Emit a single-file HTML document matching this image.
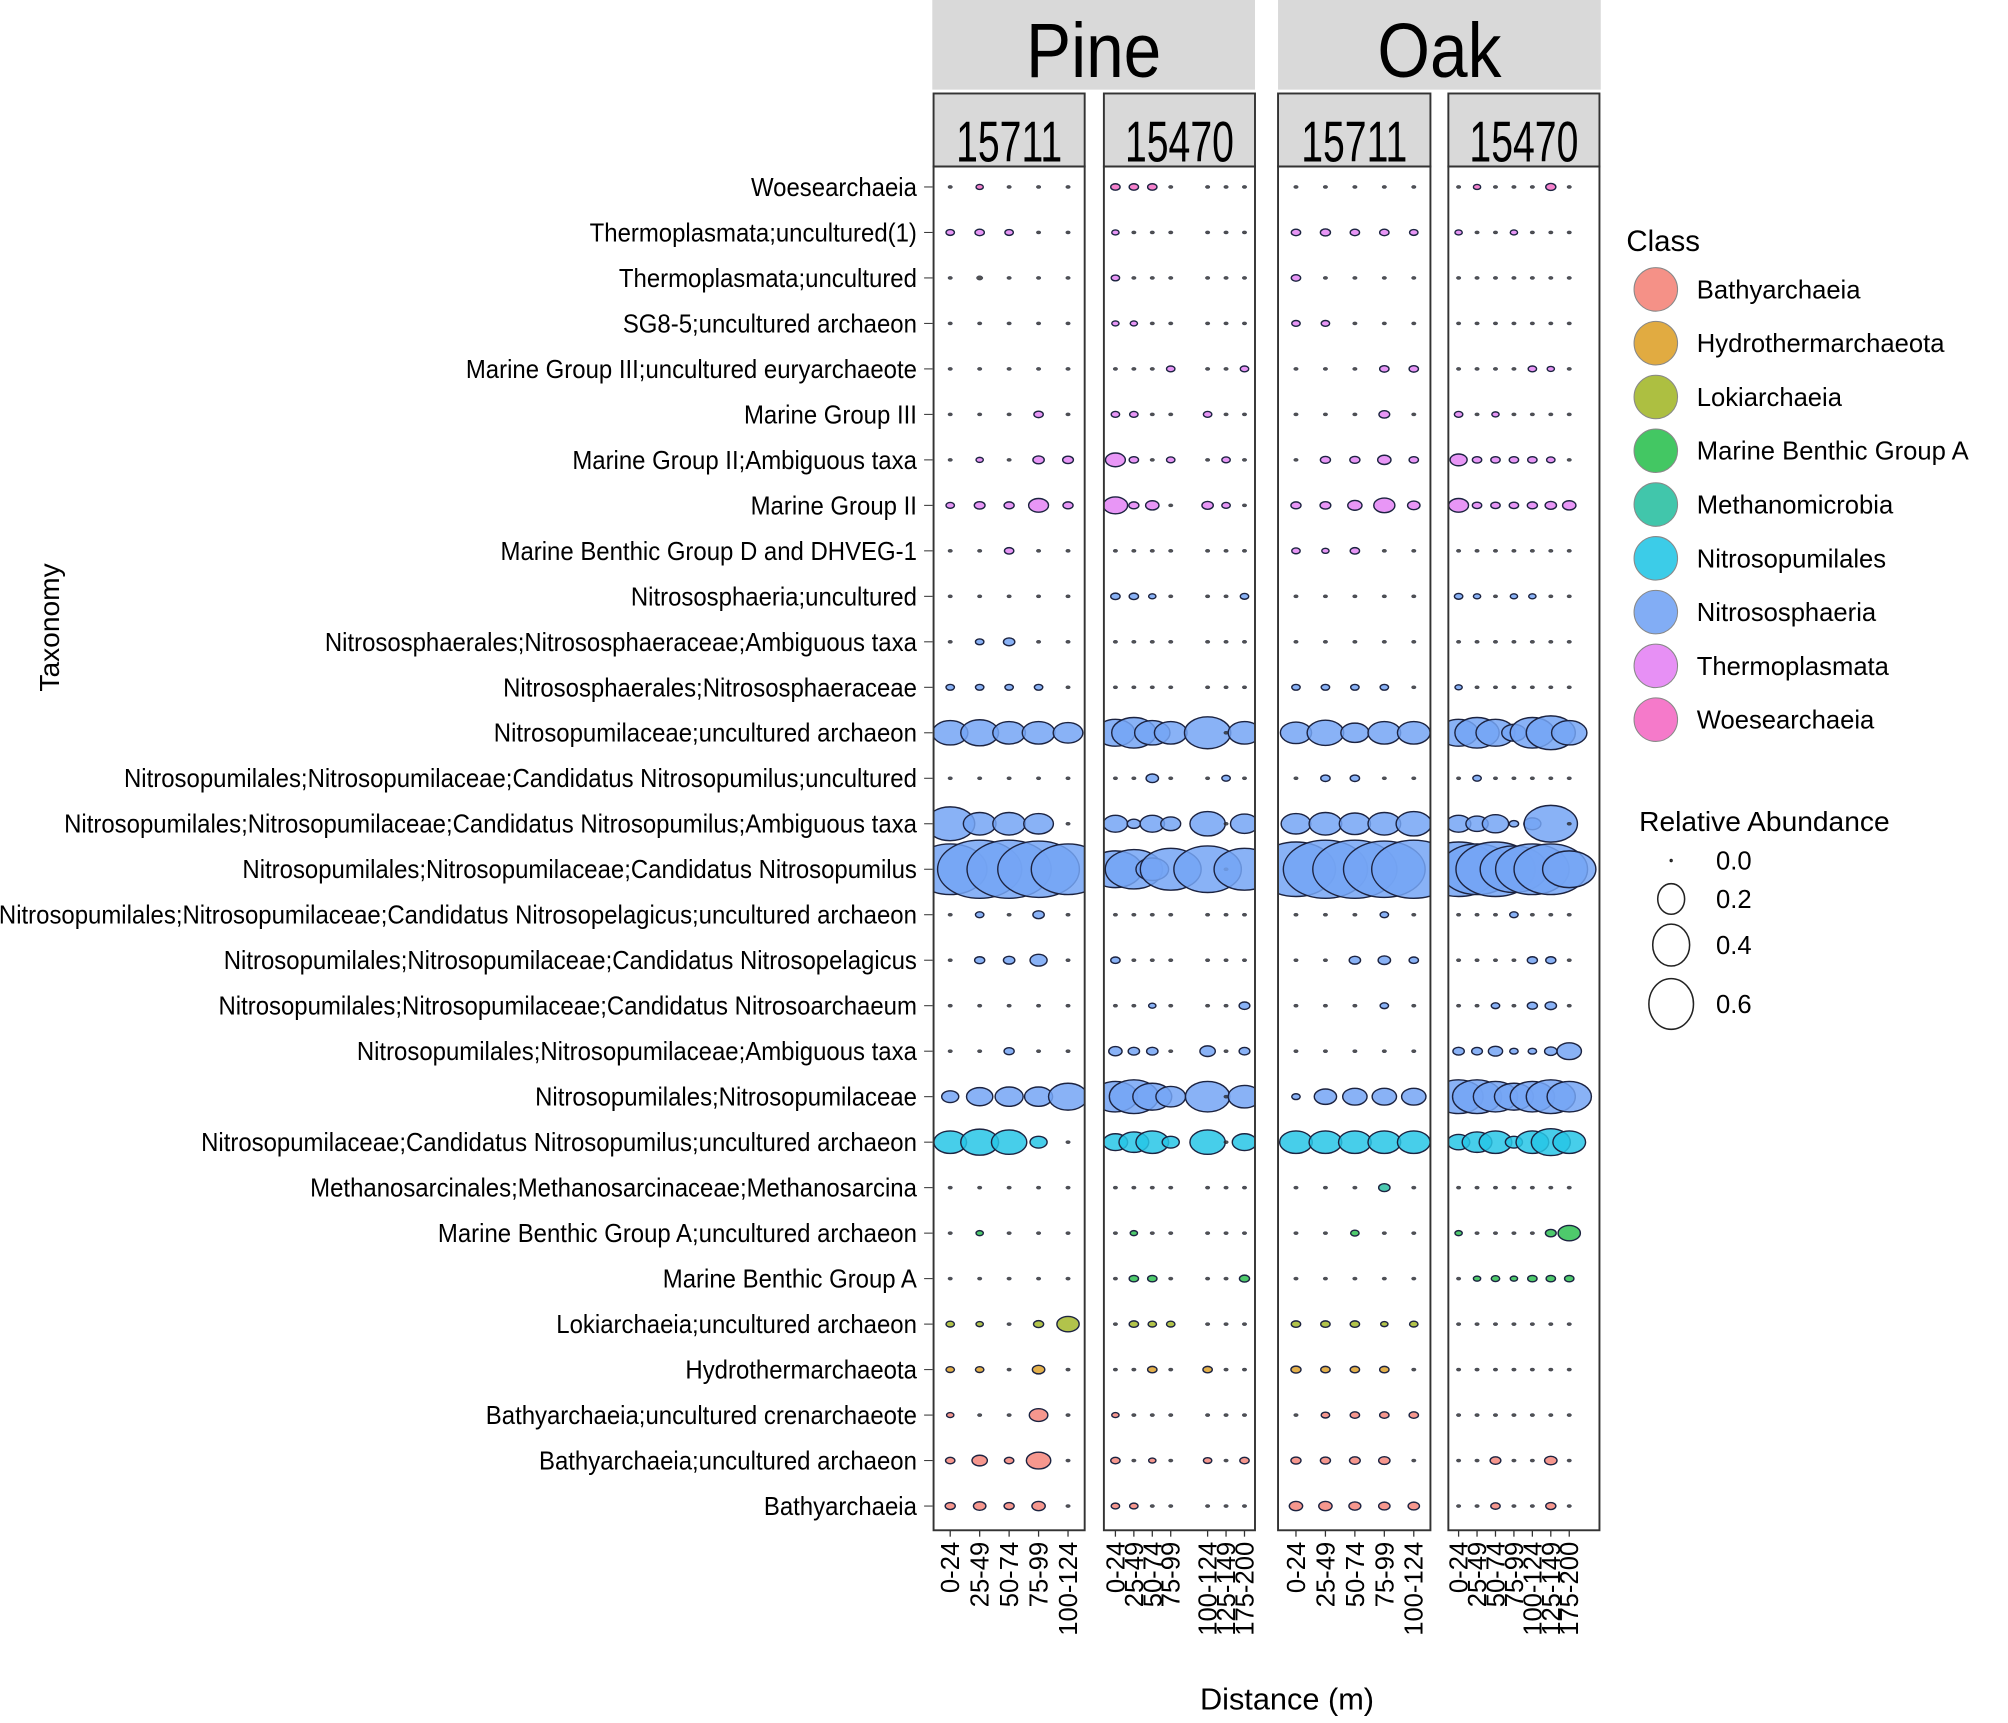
<!DOCTYPE html>
<html><head><meta charset="utf-8"><style>
html,body{margin:0;padding:0;background:#fff}
svg{display:block}
text{font-family:"Liberation Sans",sans-serif}
</style></head><body>
<svg id="chart" width="2008" height="1723" viewBox="0 0 1568 1345.5" xmlns="http://www.w3.org/2000/svg">
<g id="strips"></g><g id="panels"></g><g id="ylabels" transform="translate(716,0) scale(0.935,1) translate(-716,0)"></g><g id="legend"></g>
<text x="1005" y="1335" font-size="24" text-anchor="middle">Distance (m)</text>
<text transform="translate(46,490) rotate(-90)" font-size="22" text-anchor="middle">Taxonomy</text>
</svg>
<script>
const taxa = ["Woesearchaeia","Thermoplasmata;uncultured(1)","Thermoplasmata;uncultured","SG8-5;uncultured archaeon","Marine Group III;uncultured euryarchaeote","Marine Group III","Marine Group II;Ambiguous taxa","Marine Group II","Marine Benthic Group D and DHVEG-1","Nitrososphaeria;uncultured","Nitrososphaerales;Nitrososphaeraceae;Ambiguous taxa","Nitrososphaerales;Nitrososphaeraceae","Nitrosopumilaceae;uncultured archaeon","Nitrosopumilales;Nitrosopumilaceae;Candidatus Nitrosopumilus;uncultured","Nitrosopumilales;Nitrosopumilaceae;Candidatus Nitrosopumilus;Ambiguous taxa","Nitrosopumilales;Nitrosopumilaceae;Candidatus Nitrosopumilus","Nitrosopumilales;Nitrosopumilaceae;Candidatus Nitrosopelagicus;uncultured archaeon","Nitrosopumilales;Nitrosopumilaceae;Candidatus Nitrosopelagicus","Nitrosopumilales;Nitrosopumilaceae;Candidatus Nitrosoarchaeum","Nitrosopumilales;Nitrosopumilaceae;Ambiguous taxa","Nitrosopumilales;Nitrosopumilaceae","Nitrosopumilaceae;Candidatus Nitrosopumilus;uncultured archaeon","Methanosarcinales;Methanosarcinaceae;Methanosarcina","Marine Benthic Group A;uncultured archaeon","Marine Benthic Group A","Lokiarchaeia;uncultured archaeon","Hydrothermarchaeota","Bathyarchaeia;uncultured crenarchaeote","Bathyarchaeia;uncultured archaeon","Bathyarchaeia"];
const taxaClass = [8,7,7,7,7,7,7,7,7,6,6,6,6,6,6,6,6,6,6,6,6,5,4,3,3,2,1,0,0,0];
const classNames = ["Bathyarchaeia","Hydrothermarchaeota","Lokiarchaeia","Marine Benthic Group A","Methanomicrobia","Nitrosopumilales","Nitrososphaeria","Thermoplasmata","Woesearchaeia"];
const classColors = ["#f4857a","#dea22c","#a4b82c","#2fc152","#2cc0a2","#27c6e6","#74a4f4","#e484f4","#f46cc4"];
const cats5 = ["0-24","25-49","50-74","75-99","100-124"];
const cats7 = ["0-24","25-49","50-74","75-99","100-124","125-149","175-200"];
const sizeLegend = [0.0,0.2,0.4,0.6];
const pine15711 = [
[0,.001,0,0,0],[.002,.003,.002,0,0],[0,.0005,0,0,0],[0,0,0,0,0],[0,0,0,0,0],[0,0,0,.003,0],[0,.001,0,.006,.005],[.002,.005,.004,.03,.004],[0,0,.003,0,0],[0,0,0,0,0],
[0,.002,.006,0,0],[.002,.002,.002,.002,0],[.12,.14,.1,.1,.08],[0,0,0,0,0],[.25,.1,.1,.08,0],[.6,.8,.8,.75,.6],[0,.002,0,.006,0],[0,.004,.006,.02,0],[0,0,0,0,0],[0,0,.004,0,0],
[.02,.06,.07,.07,.15],[.1,.14,.12,.02,0],[0,0,0,0,0],[0,.001,0,0,0],[0,0,0,0,0],[.002,.001,0,.004,.04],[.002,.002,0,.008,0],[.001,0,0,.025,0],[.003,.015,.003,.05,0],[.004,.008,.004,.01,0]];
const pine15470 = [
[.003,.003,.003,0,0,0,0],[.001,0,0,0,0,0,0],[.002,0,0,0,0,0,0],[.001,.001,0,0,0,0,0],[0,0,0,.002,0,0,.002],[.002,.002,0,0,.002,0,0],[.03,.003,0,.002,0,.002,0],[.05,.004,.01,0,.006,.002,0],[0,0,0,0,0,0,0],[.003,.003,.001,0,0,0,.002],
[0,0,0,0,0,0,0],[0,0,0,0,0,0,0],[.15,.2,.12,.1,.22,0,.1],[0,0,.008,0,0,.002,0],[.05,.01,.05,.03,.12,0,.07],[.3,.35,.1,.4,.5,0,.4],[0,0,0,0,0,0,0],[.003,0,0,0,0,0,0],[0,0,.001,0,0,0,.005],[.01,.006,.006,0,.015,0,.005],
[.2,.25,.15,.08,.2,0,.1],[.05,.08,.1,.02,.12,0,.05],[0,0,0,0,0,0,0],[0,.001,0,0,0,0,0],[0,.003,.003,0,0,0,.004],[0,.003,.002,.002,0,0,0],[0,0,.003,0,.003,0,0],[.001,0,0,0,0,0,0],[.003,0,.001,0,.002,0,.003],[.002,.002,0,0,0,0,0]];
const oak15711 = [
[0,0,0,0,0],[.003,.004,.003,.003,.002],[.003,0,0,0,0],[.002,.002,0,0,0],[0,0,0,.003,.003],[0,0,0,.005,0],[0,.004,.004,.01,.003],[.004,.005,.012,.035,.008],[.002,.001,.003,0,0],[0,0,0,0,0],
[0,0,0,0,0],[.002,.002,.002,.002,0],[.09,.13,.07,.1,.1],[0,.003,.003,0,0],[.08,.1,.09,.1,.12],[.7,.8,.8,.75,.8],[0,0,0,.002,0],[0,0,.006,.008,.003],[0,0,0,.002,0],[0,0,0,0,0],
[.002,.04,.05,.05,.05],[.1,.1,.1,.1,.1],[0,0,0,.006,0],[0,0,.002,0,0],[0,0,0,0,0],[.003,.003,.003,.001,.002],[.004,.003,.003,.003,0],[0,.002,.003,.003,.003],[.004,.004,.005,.006,0],[.01,.01,.007,.006,.006]];
const oak15470 = [
[0,.001,0,0,0,.004,0],[.001,0,0,.001,0,0,0],[0,0,0,0,0,0,0],[0,0,0,0,0,0,0],[0,0,0,0,.002,.001,0],[.002,0,.001,0,0,0,0],[.02,.003,.003,.003,.003,.002,0],[.03,.003,.003,.003,.004,.006,.01],[0,0,0,0,0,0,0],[.002,.001,0,.001,.001,0,0],
[0,0,0,0,0,0,0],[.001,0,0,0,0,0,0],[.15,.2,.15,.05,.2,.25,.12],[0,.002,0,0,0,0,0],[.05,.04,.06,.003,.02,.3,0],[.7,.6,.7,.5,.6,.6,.3],[0,0,0,.002,0,0,0],[0,0,0,0,.004,.004,0],[0,0,.002,0,.004,.006,0],[.006,.005,.012,.002,.002,.008,.05],
[.25,.25,.2,.15,.2,.25,.2],[.04,.08,.1,.02,.1,.15,.1],[0,0,0,0,0,0,0],[.001,0,0,0,0,.005,.04],[0,.001,.002,.001,.003,.003,.003],[0,0,0,0,0,0,0],[0,0,0,0,0,0,0],[0,0,0,0,0,0,0],[0,0,.005,0,0,.008,0],[0,0,.003,0,0,.004,0]];

const NS="http://www.w3.org/2000/svg";
function mk(tag,attrs,parent){const e=document.createElementNS(NS,tag);for(const k in attrs)e.setAttribute(k,attrs[k]);parent.appendChild(e);return e;}
const yTop=146, yStep=35.52;
function yScale(i){return yTop+i*yStep;}
function rScale(v){return 1.2+24*Math.sqrt(v);}
const panels=[
 {name:"pine-15711",x0:729,x1:847,cats:cats5,slots:[0,1,2,3,4],first:742,step:23,data:pine15711,title:"15711"},
 {name:"pine-15470",x0:862,x1:980,cats:cats7,slots:[0,1,2,3,5,6,7],first:871,step:14.4,data:pine15470,title:"15470"},
 {name:"oak-15711",x0:998,x1:1117,cats:cats5,slots:[0,1,2,3,4],first:1012,step:23,data:oak15711,title:"15711"},
 {name:"oak-15470",x0:1131,x1:1249,cats:cats7,slots:[0,1,2,3,4,5,6],first:1139,step:14.4,data:oak15470,title:"15470"}];
const strips=document.getElementById('strips');
[["Pine",728,980],["Oak",998,1250]].forEach(s=>{
 const r=mk('rect',{x:s[1],y:0,width:s[2]-s[1],height:70,fill:"#d9d9d9"},strips);
 
 
 const cx=(s[1]+s[2])/2;
 const t=mk('text',{x:cx,y:60,'font-size':60,'text-anchor':'middle',fill:'#000',transform:`translate(${cx},0) scale(0.88,1) translate(${-cx},0)`},strips);
 t.textContent=s[0];
 
 
});
const pg=document.getElementById('panels');
const defs=mk('defs',{},pg);
panels.forEach((p,pi)=>{
 const cp=mk('clipPath',{id:'cp'+pi},defs);
 mk('rect',{x:p.x0,y:130,width:p.x1-p.x0,height:1065},cp);
 const g=mk('g',{},pg);
 
 
 const hdr=mk('rect',{x:p.x0,y:73,width:p.x1-p.x0,height:57,fill:"#d9d9d9",stroke:"#333","stroke-width":1.5},g);
 
 
 const hx=(p.x0+p.x1)/2;
 const ht=mk('text',{x:hx,y:126,'font-size':45,'text-anchor':'middle',fill:'#000',transform:`translate(${hx},0) scale(0.68,1) translate(${-hx},0)`},g);
 ht.textContent=p.title;
 
 
 const bubbles=mk('g',{'clip-path':'url(#cp'+pi+')'},g);
 p.data.forEach((row,ri)=>{
  row.forEach((v,ci)=>{
   const cx=p.first+p.slots[ci]*p.step, cy=yScale(ri), ry=rScale(v);
   const col=classColors[taxaClass[ri]];
   const e=mk('ellipse',{cx:cx,cy:cy,rx:ry*1.45,ry:ry,fill:v>0.0005?col:'#333','fill-opacity':0.85,stroke:'#1c2340','stroke-width':v>0.0005?1.1:0.3},bubbles);
   
   
  });
 });
 const fr=mk('rect',{x:p.x0,y:130,width:p.x1-p.x0,height:1065,fill:'none',stroke:'#333','stroke-width':1.5},g);
 
 
 p.cats.forEach((c,ci)=>{
  const x=p.first+p.slots[ci]*p.step;
  mk('line',{x1:x,x2:x,y1:1195,y2:1200,stroke:'#333','stroke-width':1},g);
  const t=mk('text',{transform:`translate(${x+7},1204) rotate(-90)`,'font-size':20,'text-anchor':'end',fill:'#000','font-family':'Liberation Mono'},g);
  t.textContent=c;
  
  
 });
});
const yl=document.getElementById('ylabels');
taxa.forEach((n,i)=>{
 const t=mk('text',{x:716,y:yScale(i)+7,'font-size':20,'text-anchor':'end',fill:'#000'},yl);
 t.textContent=n;
 
 
 mk('line',{x1:722,x2:729,y1:yScale(i),y2:yScale(i),stroke:'#333','stroke-width':0.8},yl);
});
const lg=document.getElementById('legend');
const ct=mk('text',{x:1270,y:196,'font-size':23,fill:'#000'},lg);
ct.textContent="Class";


classNames.forEach((n,i)=>{
 const y=226+i*42;
 const c=mk('circle',{cx:1293,cy:y,r:17,fill:classColors[i],'fill-opacity':0.9,stroke:'#888','stroke-width':0.8},lg);
 
 
 const t=mk('text',{x:1325,y:y+7,'font-size':20,fill:'#000'},lg);
 t.textContent=n;
 
 
});
const rt=mk('text',{x:1280,y:649,'font-size':22,fill:'#000'},lg);
rt.textContent="Relative Abundance";


const sy=[672,702,738,784];
sizeLegend.forEach((v,i)=>{
 const r=v===0?0.8:1.2+24*Math.sqrt(v);
 const c=mk('ellipse',{cx:1305,cy:sy[i],rx:r*0.88,ry:r,fill:'none',stroke:'#222','stroke-width':1.2},lg);
 
 
 const t=mk('text',{x:1340,y:sy[i]+7,'font-size':20,fill:'#000'},lg);
 t.textContent=v.toFixed(1);
 
 
});
</script>
</body></html>
